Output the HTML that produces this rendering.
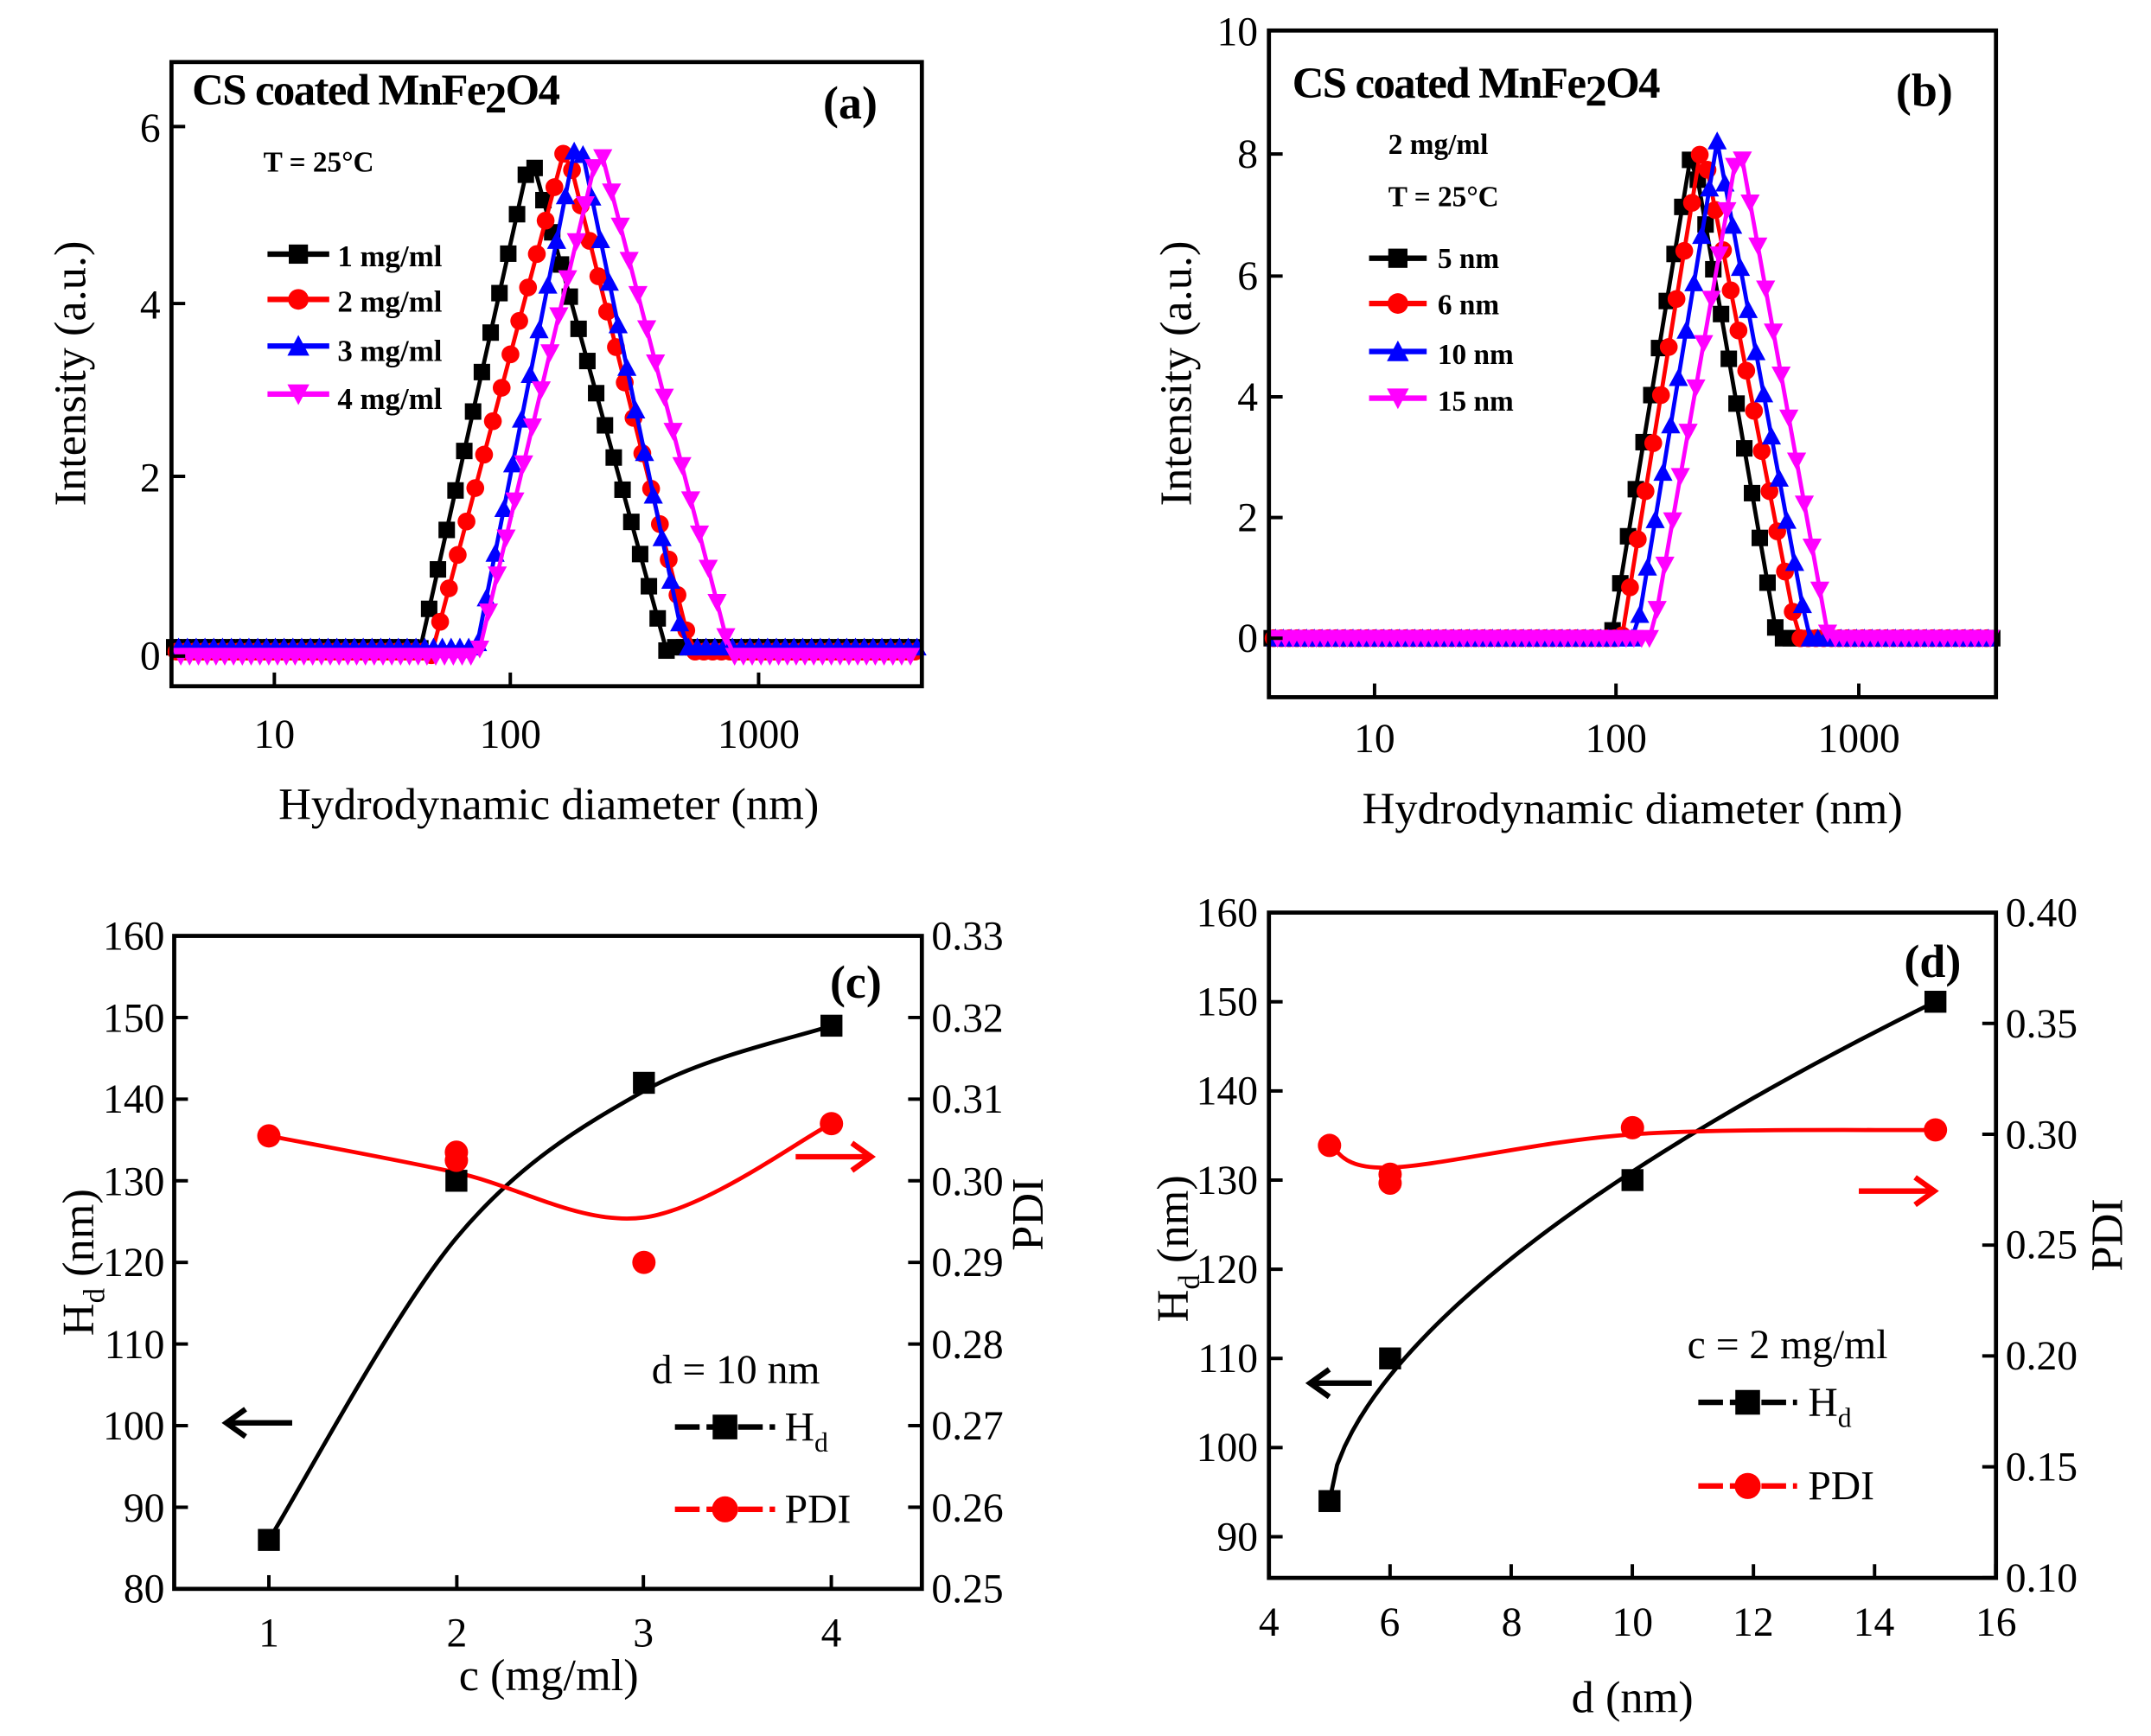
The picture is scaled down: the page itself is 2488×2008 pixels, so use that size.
<!DOCTYPE html>
<html><head><meta charset="utf-8">
<style>
html,body{margin:0;padding:0;background:#fff;}
svg{display:block;}
text{font-family:"Liberation Serif",serif;fill:#000;}
.t{font-size:30px;}
.al{font-size:33px;}
.b{font-weight:bold;}
</style></head>
<body>
<svg id="s" width="2488" height="2008" viewBox="0 0 1568 1265" xmlns="http://www.w3.org/2000/svg">
<g id="plots"></g>
<rect x="125" y="45" width="547" height="455" fill="none" stroke="#000" stroke-width="3"/>
<g class="t" text-anchor="end">
<text x="117" y="488">0</text><text x="117" y="358">2</text><text x="117" y="232">4</text><text x="117" y="103">6</text>
</g>
<g class="t" text-anchor="middle">
<text x="200" y="545">10</text><text x="372" y="545">100</text><text x="553" y="545">1000</text>
</g>
<text class="al" x="400" y="597" text-anchor="middle">Hydrodynamic diameter (nm)</text>
<text class="al" transform="translate(62,272) rotate(-90)" text-anchor="middle">Intensity (a.u.)</text>
<text class="b" x="140" y="76" font-size="32" letter-spacing="-1">CS coated MnFe<tspan dy="6">2</tspan><tspan dy="-6">O4</tspan></text>
<text class="b" x="600" y="86" font-size="34">(a)</text>
<text class="b" x="192" y="125" font-size="21">T = 25°C</text>
<g class="b" font-size="22">
<text x="246" y="194">1 mg/ml</text><text x="246" y="227">2 mg/ml</text><text x="246" y="263">3 mg/ml</text><text x="246" y="298">4 mg/ml</text>
</g>
<rect x="925" y="22" width="530" height="486" fill="none" stroke="#000" stroke-width="3"/>
<g class="t" text-anchor="end">
<text x="917" y="475">0</text><text x="917" y="387">2</text><text x="917" y="299">4</text><text x="917" y="211">6</text><text x="917" y="122">8</text><text x="917" y="33">10</text>
</g>
<g class="t" text-anchor="middle">
<text x="1002" y="548">10</text><text x="1178" y="548">100</text><text x="1355" y="548">1000</text>
</g>
<text class="al" x="1190" y="600" text-anchor="middle">Hydrodynamic diameter (nm)</text>
<text class="al" transform="translate(868,272) rotate(-90)" text-anchor="middle">Intensity (a.u.)</text>
<text class="b" x="942" y="71" font-size="32" letter-spacing="-1">CS coated MnFe<tspan dy="6">2</tspan><tspan dy="-6">O4</tspan></text>
<text class="b" x="1382" y="77" font-size="34">(b)</text>
<text class="b" x="1012" y="112" font-size="21">2 mg/ml</text>
<text class="b" x="1012" y="150" font-size="21">T = 25°C</text>
<g class="b" font-size="21">
<text x="1048" y="195">5 nm</text><text x="1048" y="229">6 nm</text><text x="1048" y="265">10 nm</text><text x="1048" y="299">15 nm</text>
</g>
<rect x="127" y="682" width="545" height="476" fill="none" stroke="#000" stroke-width="3"/>
<g class="t" text-anchor="end">
<text x="120" y="692">160</text><text x="120" y="752">150</text><text x="120" y="811">140</text><text x="120" y="871">130</text><text x="120" y="930">120</text><text x="120" y="990">110</text><text x="120" y="1049">100</text><text x="120" y="1109">90</text><text x="120" y="1168">80</text>
</g>
<g class="t" text-anchor="start">
<text x="679" y="692">0.33</text><text x="679" y="752">0.32</text><text x="679" y="811">0.31</text><text x="679" y="871">0.30</text><text x="679" y="930">0.29</text><text x="679" y="990">0.28</text><text x="679" y="1049">0.27</text><text x="679" y="1109">0.26</text><text x="679" y="1168">0.25</text>
</g>
<g class="t" text-anchor="middle">
<text x="196" y="1200">1</text><text x="333" y="1200">2</text><text x="469" y="1200">3</text><text x="606" y="1200">4</text>
</g>
<text class="al" x="400" y="1232" text-anchor="middle">c (mg/ml)</text>
<text class="al" transform="translate(68,920) rotate(-90)" text-anchor="middle">H<tspan dy="8" font-size="22">d</tspan><tspan dy="-8"> (nm)</tspan></text>
<text class="al" transform="translate(760,885) rotate(-90)" text-anchor="middle">PDI</text>
<text class="b" x="605" y="727" font-size="34">(c)</text>
<text x="475" y="1008" font-size="30">d = 10 nm</text>
<text x="572" y="1050" font-size="30">H<tspan dy="8" font-size="20">d</tspan></text>
<text x="572" y="1110" font-size="30">PDI</text>
<rect x="925" y="665" width="530" height="485" fill="none" stroke="#000" stroke-width="3"/>
<g class="t" text-anchor="end">
<text x="917" y="675">160</text><text x="917" y="740">150</text><text x="917" y="805">140</text><text x="917" y="870">130</text><text x="917" y="935">120</text><text x="917" y="1000">110</text><text x="917" y="1065">100</text><text x="917" y="1130">90</text>
</g>
<g class="t" text-anchor="start">
<text x="1462" y="675">0.40</text><text x="1462" y="756">0.35</text><text x="1462" y="837">0.30</text><text x="1462" y="917">0.25</text><text x="1462" y="998">0.20</text><text x="1462" y="1079">0.15</text><text x="1462" y="1160">0.10</text>
</g>
<g class="t" text-anchor="middle">
<text x="925" y="1192">4</text><text x="1013" y="1192">6</text><text x="1102" y="1192">8</text><text x="1190" y="1192">10</text><text x="1278" y="1192">12</text><text x="1366" y="1192">14</text><text x="1455" y="1192">16</text>
</g>
<text class="al" x="1190" y="1248" text-anchor="middle">d (nm)</text>
<text class="al" transform="translate(866,910) rotate(-90)" text-anchor="middle">H<tspan dy="8" font-size="22">d</tspan><tspan dy="-8"> (nm)</tspan></text>
<text class="al" transform="translate(1547,900) rotate(-90)" text-anchor="middle">PDI</text>
<text class="b" x="1388" y="712" font-size="34">(d)</text>
<text x="1230" y="990" font-size="30">c = 2 mg/ml</text>
<text x="1318" y="1032" font-size="30">H<tspan dy="8" font-size="20">d</tspan></text>
<text x="1318" y="1093" font-size="30">PDI</text>
</svg>
<script>
var NS="http://www.w3.org/2000/svg",G=document.getElementById("plots");
function el(t,a){var e=document.createElementNS(NS,t);for(var k in a)e.setAttribute(k,a[k]);G.appendChild(e);return e;}
function mk(type,x,y,c,s){
 s=s||5;
 if(type==0)el("rect",{x:x-s,y:y-s,width:2*s,height:2*s,fill:c});
 else if(type==1)el("circle",{cx:x,cy:y,r:s+0.5,fill:c});
 else if(type==2)el("polygon",{points:(x-s-1)+","+(y+s)+" "+(x+s+1)+","+(y+s)+" "+x+","+(y-s-1),fill:c});
 else el("polygon",{points:(x-s-1)+","+(y-s)+" "+(x+s+1)+","+(y-s)+" "+x+","+(y+s+1),fill:c});
}
var cols=["#000","#f00","#00f","#f0f"];
function dist(P,ser,st){
 ser.forEach(function(s,i){
  var l0=Math.log10(s[0]),lp=Math.log10(s[1]),l1=Math.log10(s[2]),pk=s[3],base=s[4];
  var pts=[],lmin=(P.left-P.x10)/P.dec+1,lmax=(P.right-P.x10)/P.dec+1;
  for(var l=lmin+i*st/4;l<=lmax+1e-9;l+=st){
   var v;
   if(l<l0||l>l1)v=base;else if(l<=lp)v=pk*(l-l0)/(lp-l0);else v=pk*(l1-l)/(l1-lp);
   pts.push([P.x10+(l-1)*P.dec,P.y0-v*P.uy]);
  }
  el("polyline",{points:pts.map(function(p){return p.join(",")}).join(" "),fill:"none",stroke:cols[i],"stroke-width":3});
  pts.forEach(function(p){mk(i,p[0],p[1],cols[i],6);});
 });
}
dist({x10:198,dec:178,left:127,right:670,y0:478,uy:64.3},[[40,115,420,5.7,0.1],[45,160,530,5.8,0.05],[68,180,500,5.95,0.1],[70,220,760,5.8,0]],0.036);
dist({x10:1002,dec:176.5,left:927,right:1453,y0:465,uy:44.2},[[95,205,460,8.1,0],[105,225,560,8.2,0],[120,260,620,8.2,0],[140,320,750,8.2,0]],0.032);
[[195,240,185],[195,240,218],[195,240,252],[195,240,287]].forEach(function(r,i){el("line",{x1:r[0],y1:r[2],x2:r[1],y2:r[2],stroke:cols[i],"stroke-width":4});mk(i,(r[0]+r[1])/2,r[2],cols[i],7);});
[[998,1040,188],[998,1040,221],[998,1040,256],[998,1040,290]].forEach(function(r,i){el("line",{x1:r[0],y1:r[2],x2:r[1],y2:r[2],stroke:cols[i],"stroke-width":4});mk(i,(r[0]+r[1])/2,r[2],cols[i],7);});
function tk(x1,y1,x2,y2){el("line",{x1:x1,y1:y1,x2:x2,y2:y2,stroke:"#000","stroke-width":2.5});}
[478,347,221,92].forEach(function(y){tk(125,y,135,y);});
[200,372,553].forEach(function(x){tk(x,500,x,490);});
[465,377,289,201,112].forEach(function(y){tk(925,y,935,y);});
[1002,1178,1355].forEach(function(x){tk(x,508,x,498);});
for(var i=0;i<9;i++){var y=682+i*59.5;tk(127,y,137,y);tk(672,y,662,y);}
[196,333,469,606].forEach(function(x){tk(x,1158,x,1148);});
for(var i=0;i<8;i++){var y=665+i*65;tk(925,y,935,y);}
for(var i=0;i<7;i++){var y=665+i*80.8;tk(1455,y,1445,y);}
for(var i=0;i<7;i++){var x=925+i*88.3;tk(x,1150,x,1140);}
function cr(p,c,w){
 var d="M"+p[0][0]+","+p[0][1];
 for(var i=0;i<p.length-1;i++){
  var p0=p[i-1]||p[i],p1=p[i],p2=p[i+1],p3=p[i+2]||p2;
  d+=" C"+(p1[0]+(p2[0]-p0[0])/6)+","+(p1[1]+(p2[1]-p0[1])/6)+" "+(p2[0]-(p3[0]-p1[0])/6)+","+(p2[1]-(p3[1]-p1[1])/6)+" "+p2[0]+","+p2[1];
 }
 el("path",{d:d,fill:"none",stroke:c,"stroke-width":w||3});
}
function fn(f,a,b,X,Y,c){var p=[];for(var t=a;t<=b+1e-9;t+=(b-a)/80)p.push(X(t)+","+Y(f(t)));el("polyline",{points:p.join(" "),fill:"none",stroke:c,"stroke-width":3});}
function cx(v){return 196+(v-1)*136.7;}
function cH(v){return 1158-(v-80)*5.95;}
function cP(v){return 1158-(v-0.25)/0.08*476;}
cr([[1,86],[2,123],[3,141],[4,149]].map(function(p){return [cx(p[0]),cH(p[1])]}),"#000");
cr([[1,0.3055],[2,0.301],[3,0.2955],[4,0.307]].map(function(p){return [cx(p[0]),cP(p[1])]}),"#f00");
[[1,86],[2,130],[3,142],[4,149]].forEach(function(p){mk(0,cx(p[0]),cH(p[1]),"#000",8);});
[[1,0.3055],[2,0.3035],[2,0.3025],[3,0.290],[4,0.307]].forEach(function(p){mk(1,cx(p[0]),cP(p[1]),"#f00",8);});
function dx(v){return 925+(v-4)*44.17;}
function dH(v){return 665+(160-v)*6.5;}
function dP(v){return 1150-(v-0.10)*1616.7;}
fn(function(t){return 94+14.07*Math.pow(t-5,0.6);},5,15,dx,dH,"#000");
cr([[5,0.295],[6,0.285],[10,0.300],[15,0.302]].map(function(p){return [dx(p[0]),dP(p[1])]}),"#f00");
[[5,94],[6,110],[10,130],[15,150]].forEach(function(p){mk(0,dx(p[0]),dH(p[1]),"#000",8);});
[[5,0.295],[6,0.278],[6,0.282],[10,0.303],[15,0.302]].forEach(function(p){mk(1,dx(p[0]),dP(p[1]),"#f00",8);});
function lg(x1,x2,y,t,c){el("line",{x1:x1,y1:y,x2:x2,y2:y,stroke:c,"stroke-width":4,"stroke-dasharray":"18,5"});mk(t,(x1+x2)/2,y,c,9);}
lg(492,565,1040,0,"#000");lg(492,565,1100,1,"#f00");
lg(1238,1310,1022,0,"#000");lg(1238,1310,1083,1,"#f00");
function ar(x1,x2,y,c){el("line",{x1:x1,y1:y,x2:x2,y2:y,stroke:c,"stroke-width":4});var d=x2>x1?-1:1;el("polyline",{points:(x2+d*14)+","+(y-10)+" "+x2+","+y+" "+(x2+d*14)+","+(y+10),fill:"none",stroke:c,"stroke-width":4});}
ar(213,165,1037,"#000");ar(580,635,843,"#f00");
ar(1000,955,1008,"#000");ar(1355,1410,868,"#f00");
</script>
</body></html>
